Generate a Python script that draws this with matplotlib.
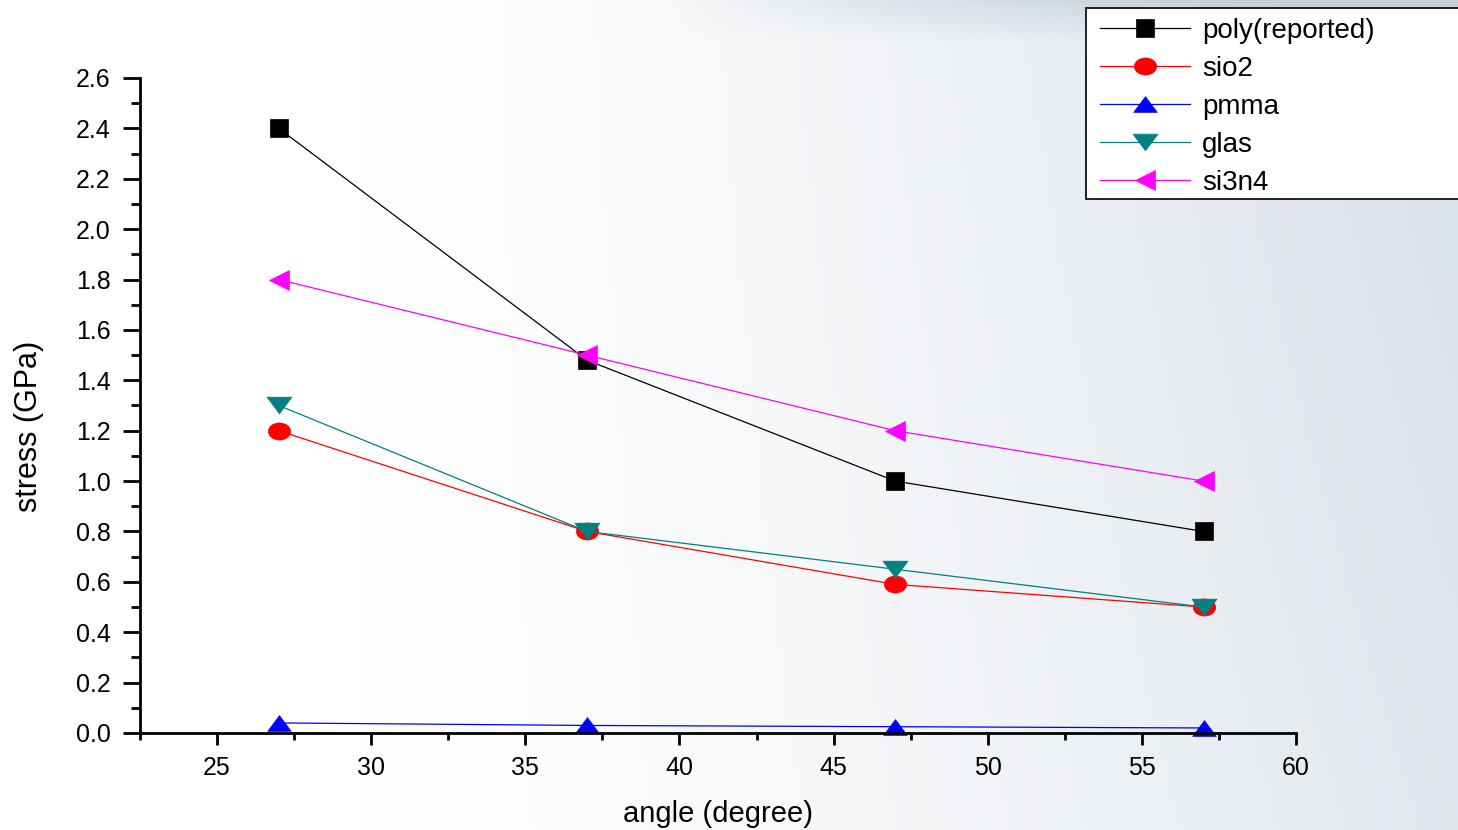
import numpy as np
import matplotlib
matplotlib.use("Agg")
import matplotlib.pyplot as plt
from matplotlib.path import Path
from matplotlib.transforms import Affine2D
from matplotlib.ticker import MultipleLocator, FuncFormatter, FormatStrFormatter
from matplotlib.patches import Rectangle

plt.rcParams['font.family'] = ['Liberation Sans', 'DejaVu Sans']

angles = [27, 37, 47, 57]
poly_reported = [2.40, 1.48, 1.00, 0.80]
sio2 = [1.20, 0.80, 0.59, 0.50]
pmma = [0.04, 0.03, 0.025, 0.02]
glas = [1.30, 0.80, 0.65, 0.50]
si3n4 = [1.80, 1.50, 1.20, 1.00]
labels = ['poly(reported)', 'sio2', 'pmma', 'glas', 'si3n4']

W, H = 1458, 830
fig = plt.figure(figsize=(W / 100, H / 100), dpi=100)

# background gradient
bg = fig.add_axes([0, 0, 1, 1], zorder=-10)
xs = np.linspace(0, 1, 300)
ys = np.linspace(0, 1, 200)
X, Y = np.meshgrid(xs, ys)
t = np.clip((X - 0.25) / 0.75, 0, 1) ** 1.3
t = t * (0.75 + 0.25 * Y)
top = np.clip((Y - 0.95) / 0.05, 0, 1) * np.clip((X - 0.45) / 0.4, 0, 1)
white = np.array([1.0, 1.0, 1.0])
blue = np.array([0.855, 0.88, 0.91])
dark = np.array([0.78, 0.81, 0.85])
img = white[None, None, :] * (1 - t[..., None]) + blue[None, None, :] * t[..., None]
img = img * (1 - top[..., None]) + dark[None, None, :] * top[..., None]
bg.imshow(img, extent=[0, 1, 0, 1], origin='lower', aspect='auto')
bg.axis('off')

ax = fig.add_axes([140 / W, 1 - 733 / H, (1296 - 140) / W, (733 - 78) / H])
ax.patch.set_alpha(0)

tri = Path([(0, 1), (-1.5, -1), (1.5, -1), (0, 1)],
           [Path.MOVETO, Path.LINETO, Path.LINETO, Path.CLOSEPOLY])
tri_down = tri.transformed(Affine2D().scale(1, -1))
ell = Path.unit_circle().transformed(Affine2D().scale(1.3, 1))

series = [
    (poly_reported, 'black', 's', 13.5),
    (sio2, '#ff0000', ell, 16),
    (pmma, '#0000ff', tri, 17),
    (glas, '#008080', tri_down, 18),
    (si3n4, '#ff00ff', '<', 14),
]
for (vals, col, mk, ms), lab in zip(series, labels):
    ax.plot(angles, vals, color=col, lw=0.9, marker=mk, markersize=ms,
            markerfacecolor=col, markeredgecolor=col, markeredgewidth=0.5,
            label=lab, clip_on=False)

ax.set_xlim(22.5, 60)
ax.set_ylim(0, 2.6)
ax.xaxis.set_major_locator(MultipleLocator(5))
ax.xaxis.set_minor_locator(MultipleLocator(2.5))
ax.yaxis.set_major_locator(MultipleLocator(0.2))
ax.yaxis.set_minor_locator(MultipleLocator(0.1))
ax.xaxis.set_major_formatter(FuncFormatter(lambda v, p: f'{v:.0f}' if v >= 25 else ''))
ax.yaxis.set_major_formatter(FormatStrFormatter('%.1f'))
for s in ['top', 'right']:
    ax.spines[s].set_visible(False)
for s in ['left', 'bottom']:
    ax.spines[s].set_linewidth(2)
ax.tick_params(axis='y', which='major', direction='out', length=12, width=2, labelsize=18, pad=9)
ax.tick_params(axis='y', which='minor', direction='out', length=6.5, width=2)
ax.tick_params(axis='x', which='major', direction='out', length=8.6, width=2, labelsize=18, pad=8)
ax.tick_params(axis='x', which='minor', direction='out', length=5, width=2)
ax.set_xlabel('angle (degree)', fontsize=21, labelpad=14)
ax.set_ylabel('stress (GPa)', fontsize=22)
ax.yaxis.set_label_coords((44 - 140) / 1156, (733 - 426) / 655)

# legend frame (extends past the right edge as in the original)
fig.patches.append(Rectangle((1086 / W, 1 - 199 / H), (1470 - 1086) / W, (199 - 8) / H,
                             transform=fig.transFigure, facecolor='white',
                             edgecolor='black', linewidth=1.2, zorder=5))
handles, labs = ax.get_legend_handles_labels()
leg = fig.legend(handles, labs, loc='upper left', bbox_to_anchor=(1100 / W, 1 - 18 / H),
                 fontsize=20, frameon=False, handlelength=3.25, handletextpad=0.43,
                 labelspacing=0.43, borderpad=0, borderaxespad=0)
leg.set_zorder(6)

fig.savefig('out.png', dpi=100)
